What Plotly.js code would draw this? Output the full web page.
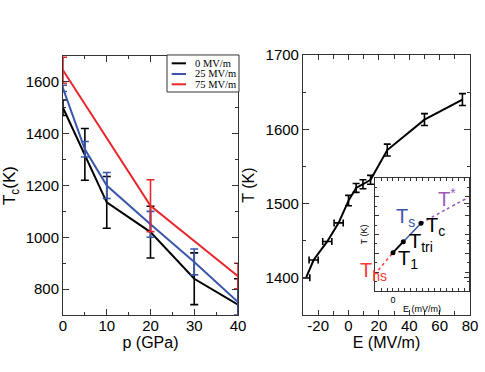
<!DOCTYPE html>
<html><head><meta charset="utf-8">
<script src="https://cdn.plot.ly/plotly-3.0.1.min.js"></script>
<style>html,body{margin:0;padding:0;background:#fff}#chart{width:485px;height:372px}</style>
</head><body><div id="chart"></div>
<script>
// ---- Left panel: Tc vs pressure ----
const pressure = [0, 5, 10, 20, 30, 40];
const tc0 = [1500, 1320, 1135, 1020, 840, 740];
const tc0Err = [30, 100, 100, 100, 100, 100];
const tc25 = [1575, 1340, 1200, 1050, 905, 750];
const tc25Err = [12, 30, 50, 50, 50, 50];
const pressure75 = [0, 20, 40];
const tc75 = [1645, 1122, 850];
const tc75Err = [50, 100, 50];
const seriesNames = ['0 MV/m', '25 MV/m', '75 MV/m'];

// ---- Right panel: T vs field ----
const field = [-28, -23, -14, -6.5, 0, 5, 9.5, 14.5, 25.5, 50, 75];
const temp = [1400, 1424, 1449, 1474, 1504, 1521, 1526, 1532, 1572, 1613, 1640];
const fieldErr = [2.5, 3, 3, 3, 0, 0, 0, 0, 0, 0, 0];
const tempErr = [0, 0, 0, 0, 7, 6, 6, 6, 8, 8, 8];
const fieldTickVals = [-20, 0, 20, 40, 60, 80];
const fieldTickText = ['-20', '0', '20', '40', '60', '80'];

// ---- Inset schematic (arbitrary units) ----
const hsE = [-2.45, 0], hsT = [2.23, 4.07];
const firstE = [0, 1.72], firstT = [4.07, 5.24];
const sE = [1.72, 4.67], sT = [5.24, 7.19];
const starE = [4.67, 8.67, 12.6], starT = [7.19, 8.6, 9.95];
const critE = [0, 1.72, 4.67], critT = [4.07, 5.24, 7.19];
const insetTickVals = [0];
const insetTickText = ['0'];

const BLACK = '#000000', BLUE = '#3a56aa', RED = '#e8262c', PURPLE = '#9a5cb8', HSRED = '#ff3838';
const FONT = 'Liberation Sans, Arial, Helvetica, sans-serif';
const SERIF = 'Liberation Serif, Times New Roman, serif';
const seriesColors = [BLACK, BLUE, RED];

function errTrace(xs, ys, ex, ey, xa, ya) {
  const idx = xs.map((_, i) => i).filter(i => (ex ? ex[i] : ey[i]) > 0);
  const t = {
    x: idx.map(i => xs[i]), y: idx.map(i => ys[i]),
    xaxis: xa, yaxis: ya, mode: 'markers', showlegend: false, hoverinfo: 'skip',
    marker: {size: 1, color: 'rgba(0,0,0,0)'}
  };
  if (ex) t.error_x = {type: 'data', array: idx.map(i => ex[i]), color: BLACK, thickness: 1.6, width: 3.5};
  if (ey) t.error_y = {type: 'data', array: idx.map(i => ey[i]), color: BLACK, thickness: 1.6, width: 3.5};
  return t;
}

const traces = [
  {x: pressure, y: tc0, name: seriesNames[0], mode: 'lines', line: {color: BLACK, width: 2},
   error_y: {type: 'data', array: tc0Err, color: BLACK, thickness: 1.6, width: 4}, xaxis: 'x', yaxis: 'y'},
  {x: pressure, y: tc25, name: seriesNames[1], mode: 'lines', line: {color: BLUE, width: 2},
   error_y: {type: 'data', array: tc25Err, color: BLUE, thickness: 1.6, width: 4}, xaxis: 'x', yaxis: 'y'},
  {x: pressure75, y: tc75, name: seriesNames[2], mode: 'lines', line: {color: RED, width: 2},
   error_y: {type: 'data', array: tc75Err, color: RED, thickness: 1.6, width: 4}, xaxis: 'x', yaxis: 'y'},
  {x: field, y: temp, mode: 'lines', line: {color: BLACK, width: 2}, xaxis: 'x2', yaxis: 'y2'},
  errTrace(field, temp, fieldErr, null, 'x2', 'y2'),
  errTrace(field, temp, null, tempErr, 'x2', 'y2'),
  {x: hsE, y: hsT, mode: 'lines', line: {color: HSRED, width: 1.5, dash: 'dot'}, xaxis: 'x3', yaxis: 'y3'},
  {x: firstE, y: firstT, mode: 'lines', line: {color: BLACK, width: 2}, xaxis: 'x3', yaxis: 'y3'},
  {x: sE, y: sT, mode: 'lines', line: {color: BLUE, width: 1.5}, xaxis: 'x3', yaxis: 'y3'},
  {x: starE, y: starT, mode: 'lines', line: {color: PURPLE, width: 1.5, dash: 'dot', shape: 'spline'}, xaxis: 'x3', yaxis: 'y3'},
  {x: critE, y: critT, mode: 'markers', marker: {color: BLACK, size: 5}, xaxis: 'x3', yaxis: 'y3'}
];

const frame = {showline: true, linecolor: '#333', linewidth: 1, mirror: 'ticks', ticks: 'inside',
  tickcolor: '#333', showgrid: false, zeroline: false, tickfont: {family: FONT, size: 15, color: '#000'}};

function lbl(text, x, y, color, xanchor) {
  return {text: text, x: x, y: y, xref: 'x3', yref: 'y3', showarrow: false, xanchor: xanchor || 'left', yanchor: 'middle',
    font: {family: FONT, size: 20, color: color}};
}

// hand-laid legend box (compact, like the original)
const legendBox = {x0: 0.3443, x1: 0.4928, y0: 0.7527, y1: 0.8522};
const legendRows = [0.8298, 0.8011, 0.7734];
const shapes = [{type: 'rect', xref: 'paper', yref: 'paper', x0: legendBox.x0, x1: legendBox.x1, y0: legendBox.y0, y1: legendBox.y1,
  line: {color: '#333', width: 1}, fillcolor: '#fff'}];
const legendAnn = [];
seriesNames.forEach((name, i) => {
  shapes.push({type: 'line', xref: 'paper', yref: 'paper', x0: 0.354, x1: 0.3835, y0: legendRows[i], y1: legendRows[i],
    line: {color: seriesColors[i], width: 2}});
  legendAnn.push({text: name, xref: 'paper', yref: 'paper', x: 0.398, y: legendRows[i], xanchor: 'left', yanchor: 'middle',
    showarrow: false, font: {family: SERIF, size: 10.5, color: '#000'}});
});

const layout = {
  width: 485, height: 372, margin: {l: 0, r: 0, t: 0, b: 0},
  paper_bgcolor: '#fff', plot_bgcolor: 'rgba(0,0,0,0)',
  font: {family: FONT, color: '#000'},
  showlegend: false,
  xaxis: Object.assign({}, frame, {domain: [0.1299, 0.4907], range: [0, 40], anchor: 'y', dtick: 10, ticklen: 6,
    ticklabelstandoff: -3,
    minor: {dtick: 5, ticklen: 3, ticks: 'inside', tickcolor: '#333'},
    title: {text: 'p (GPa)', font: {size: 16}, standoff: 2}}),
  yaxis: Object.assign({}, frame, {domain: [0.1532, 0.8495], range: [700, 1700], anchor: 'x', dtick: 200, ticklen: 6,
    minor: {dtick: 100, ticklen: 3, ticks: 'inside', tickcolor: '#333'},
    title: {text: 'T<sub>c</sub>(K)', font: {size: 17}, standoff: 6}}),
  xaxis2: Object.assign({}, frame, {domain: [0.6247, 0.9691], range: [-30, 80], anchor: 'y2', tickmode: 'array',
    tickvals: fieldTickVals, ticktext: fieldTickText, ticklen: 5, ticklabelstandoff: -3,
    minor: {dtick: 10, ticklen: 4, ticks: 'inside', tickcolor: '#333'},
    title: {text: 'E (MV/m)', font: {size: 16}, standoff: 2}}),
  yaxis2: Object.assign({}, frame, {domain: [0.1532, 0.8522], range: [1350, 1700], anchor: 'x2', dtick: 100, ticklen: 6,
    minor: {dtick: 50, ticklen: 3, ticks: 'inside', tickcolor: '#333'},
    title: {text: 'T (K)', font: {size: 16}, standoff: 6}}),
  xaxis3: Object.assign({}, frame, {domain: [0.7732, 0.9670], range: [-3, 12.67], anchor: 'y3', tickmode: 'array',
    tickvals: insetTickVals, ticktext: insetTickText, ticklen: 3, tickfont: {family: FONT, size: 9},
    minor: {dtick: 1, ticklen: 3, ticks: 'inside', tickcolor: '#333'},
    title: {text: 'E (mV/m)', font: {size: 9}, standoff: 1}}),
  yaxis3: Object.assign({}, frame, {domain: [0.2177, 0.5215], range: [0, 12], anchor: 'x3', dtick: 2, ticklen: 4,
    showticklabels: false, minor: {dtick: 1, ticklen: 2, ticks: 'inside', tickcolor: '#333'},
    title: {text: 'T (K)', font: {size: 9}, standoff: 4}}),
  shapes: shapes,
  annotations: legendAnn.concat([
    lbl('T<sup>*</sup>', 7.12, 9.9, PURPLE),
    lbl('T<sub>s</sub>', 0.17, 7.8, BLUE),
    lbl('T<sub>c</sub>', 5.17, 6.9, BLACK),
    lbl('T<sub>tri</sub>', 2.28, 5.1, BLACK),
    lbl('T<sub>1</sub>', 0.45, 3.35, BLACK),
    lbl('T<sub>hs</sub>', -0.62, 2.1, HSRED, 'right')
  ])
};

Plotly.newPlot('chart', traces, layout, {staticPlot: true, displayModeBar: false});
</script></body></html>
